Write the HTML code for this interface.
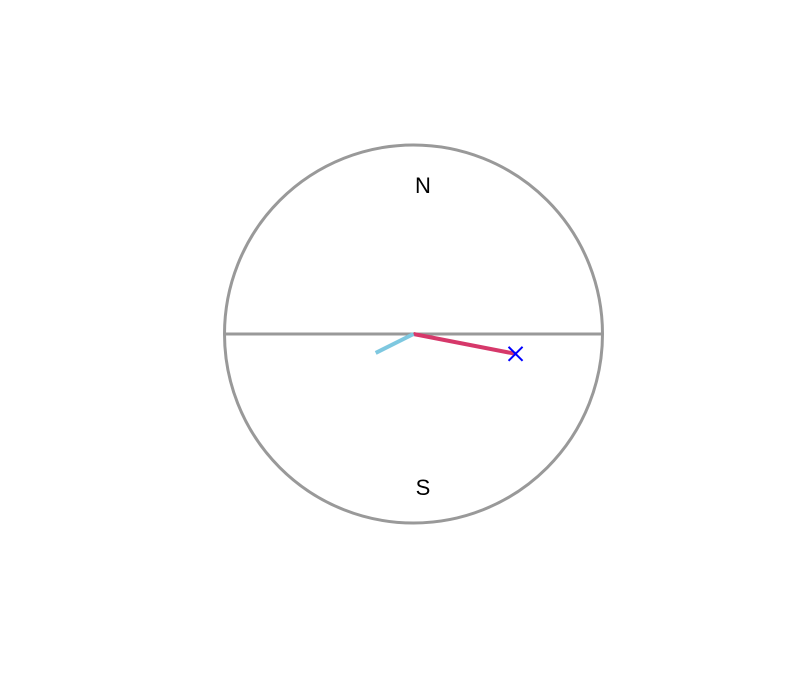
<!DOCTYPE html>
<html><head><meta charset="utf-8"><style>
html,body{margin:0;padding:0;background:#fff;}
svg{display:block;font-family:"Liberation Sans",sans-serif;}
</style></head><body>
<svg id="chart" width="800" height="695">
  <circle cx="413.5" cy="334" r="189" fill="none" stroke="#999" stroke-width="3"/>
  <line x1="224.5" y1="334" x2="602.5" y2="334" stroke="#999" stroke-width="3"/>
  <text x="423" y="193" font-size="22" text-anchor="middle" fill="#000">N</text>
  <text x="423" y="495" font-size="22" text-anchor="middle" fill="#000">S</text>
  <g id="marks"></g>
</svg>
<script>
const seriesNames = ['red-vector', 'blue-vector'];
const seriesX = [0.54, -0.20];
const seriesY = [-0.105, -0.10];
const seriesColors = ['#d6386a', '#7ec8e0'];
const markerX = [0.54];
const markerY = [-0.105];

const cx = 413.5, cy = 334, R = 189;
function sx(v){ return cx + v * R; }
function sy(v){ return cy - v * R; }
const ns = 'http://www.w3.org/2000/svg';
const g = document.getElementById('marks');
for (let i = 0; i < seriesX.length; i++) {
  const l = document.createElementNS(ns, 'line');
  l.setAttribute('x1', cx); l.setAttribute('y1', cy);
  l.setAttribute('x2', sx(seriesX[i])); l.setAttribute('y2', sy(seriesY[i]));
  l.setAttribute('stroke', seriesColors[i]); l.setAttribute('stroke-width', '4');
  
  
  g.appendChild(l);
}
for (let i = 0; i < markerX.length; i++) {
  const x = sx(markerX[i]), y = sy(markerY[i]), s = 7;
  const p = document.createElementNS(ns, 'path');
  p.setAttribute('d', `M${x-s},${y-s}L${x+s},${y+s}M${x-s},${y+s}L${x+s},${y-s}`);
  p.setAttribute('stroke', '#0000ff'); p.setAttribute('stroke-width', '2'); p.setAttribute('fill', 'none');
  
  
  g.appendChild(p);
}
</script>
</body></html>
